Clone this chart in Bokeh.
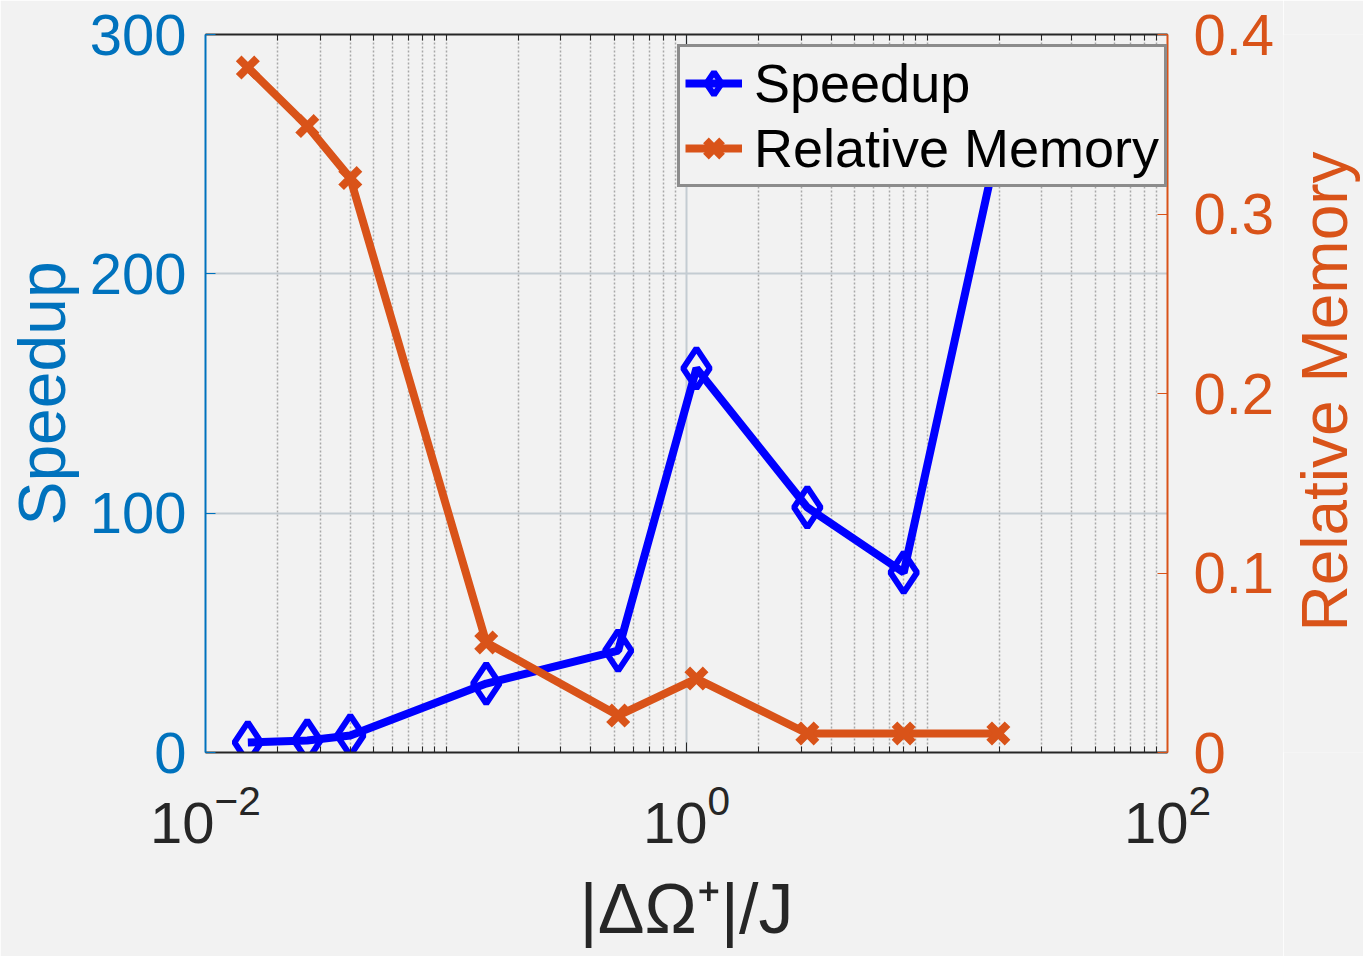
import math
from bokeh.plotting import figure
from bokeh.layouts import row
from bokeh.models import (LinearAxis, LogAxis, Range1d, FixedTicker, Legend,
                          LegendItem, LogTickFormatter)
from bokeh.core.properties import value
from bokeh.embed import file_html
from bokeh.resources import INLINE

# ---- data ----
x_values = [0.015, 0.0265, 0.04, 0.147, 0.52, 1.1, 3.18, 8.0, 19.8]
speedup = [4.2, 5.0, 7.1, 28.8, 42.6, 160.5, 102.4, 75.2, 255.0]
rel_memory = [0.3816, 0.349, 0.320, 0.0613, 0.0206, 0.0412, 0.0106, 0.0106, 0.0106]
left_ticks = [0, 100, 200, 300]
right_ticks = [0, 0.1, 0.2, 0.3, 0.4]
x_major_ticks = [0.01, 1, 100]
x_minor_ticks = [m * 10.0 ** e for e in (-2, -1, 0, 1) for m in range(1, 10)
                 if m * 10.0 ** e not in (0.01, 1, 100)]
right_title = "Relative Memory"

BG = "#f2f2f2"
BLUE_AX = "#0072BD"
ORANGE = "#D95319"
DARK = "#262626"
FONT = "Liberation Sans"

W, H = 1283, 956
ML, MR, MT, MB = 205, 116, 34, 204
W2 = 1363 - W

p = figure(width=W, height=H, x_axis_type="log", x_range=(0.01, 100),
           y_range=(0, 300), output_backend="svg", toolbar_location=None,
           min_border_left=ML, min_border_right=MR, min_border_top=MT,
           min_border_bottom=MB)
p.background_fill_color = BG
p.border_fill_color = BG
p.outline_line_color = None
p.extra_y_ranges = {"mem": Range1d(0, 0.4)}

xticker = FixedTicker(ticks=x_major_ticks, minor_ticks=x_minor_ticks)

# grids
p.xgrid.ticker = xticker
p.xgrid.grid_line_color = "#c4ccd2"
p.xgrid.grid_line_width = 2
p.xgrid.minor_grid_line_color = "#a8a8a8"
p.xgrid.minor_grid_line_dash = "2 2"
p.xgrid.minor_grid_line_width = 1.5
p.ygrid.grid_line_color = "#c4ccd2"
p.ygrid.grid_line_width = 2
p.ygrid.ticker = FixedTicker(ticks=left_ticks)

# bottom axis
xa = p.xaxis[0]
xa.ticker = xticker
xa.formatter = LogTickFormatter()
xa.axis_label = "|ΔΩ⁺|/J"
xa.axis_label_text_font = FONT
xa.axis_label_text_font_style = "normal"
xa.axis_label_text_font_size = "70px"
xa.axis_label_text_color = DARK
xa.axis_label_standoff = 24
xa.major_label_text_font = FONT
xa.major_label_text_font_size = "58px"
xa.major_label_text_color = DARK
xa.major_label_standoff = 32
xa.axis_line_color = DARK
xa.axis_line_width = 2
xa.major_tick_in = 10
xa.major_tick_out = 0
xa.minor_tick_in = 6
xa.minor_tick_out = 0
xa.major_tick_line_color = DARK
xa.minor_tick_line_color = DARK

# top axis (box)
ta = LogAxis(ticker=xticker)
ta.major_label_text_font_size = "2px"
ta.major_label_text_alpha = 0
ta.major_label_standoff = 0
ta.axis_line_color = DARK
ta.axis_line_width = 2
ta.major_tick_in = 10
ta.major_tick_out = 0
ta.minor_tick_in = 6
ta.minor_tick_out = 0
ta.major_tick_line_color = DARK
ta.minor_tick_line_color = DARK
p.add_layout(ta, "above")

# left axis
ya = p.yaxis[0]
ya.ticker = FixedTicker(ticks=left_ticks)
ya.axis_label = "Speedup"
ya.axis_label_text_font = FONT
ya.axis_label_text_font_style = "normal"
ya.axis_label_text_font_size = "66px"
ya.axis_label_text_color = BLUE_AX
ya.axis_label_standoff = 8
ya.major_label_text_font = FONT
ya.major_label_text_font_size = "58px"
ya.major_label_text_color = BLUE_AX
ya.major_label_standoff = 19
ya.axis_line_color = BLUE_AX
ya.axis_line_width = 2
ya.major_tick_in = 10
ya.major_tick_out = 0
ya.major_tick_line_color = BLUE_AX
ya.minor_tick_line_color = None

# right axis
ra = LinearAxis(y_range_name="mem", ticker=FixedTicker(ticks=right_ticks))
ra.major_label_text_font = FONT
ra.major_label_text_font_size = "58px"
ra.major_label_text_color = ORANGE
ra.major_label_standoff = 26
ra.major_label_overrides = {0: "0"}
ra.axis_line_color = ORANGE
ra.axis_line_width = 2
ra.major_tick_in = 10
ra.major_tick_out = 0
ra.major_tick_line_color = ORANGE
ra.minor_tick_line_color = None
p.add_layout(ra, "right")

# series
l1 = p.line(x_values, speedup, line_color="blue", line_width=8)
s1 = p.scatter(x_values, speedup, marker="diamond", size=40,
               fill_color=None, line_color="blue", line_width=6)
l2 = p.line(x_values, rel_memory, line_color=ORANGE, line_width=8, y_range_name="mem")
s2 = p.scatter(x_values, rel_memory, marker="x", size=26, line_color=ORANGE,
               line_width=8, y_range_name="mem")

legend = Legend(items=[LegendItem(label="Speedup", renderers=[l1, s1]),
                       LegendItem(label="Relative Memory", renderers=[l2, s2])],
                location=(472, 565))
legend.label_text_font = FONT
legend.label_text_font_size = "54px"
legend.label_text_color = "black"
legend.glyph_width = 57
legend.glyph_height = 62
legend.label_height = 62
legend.label_standoff = 12
legend.spacing = 3
legend.padding = 5
legend.margin = 0
legend.border_line_color = DARK
legend.border_line_width = 3
legend.background_fill_color = BG
legend.background_fill_alpha = 1.0
p.add_layout(legend, "center")

# narrow strip holding the right-hand axis title, reading bottom to top
# (its frame is aligned with the main frame: 34 px .. 752 px from the top)
p2 = figure(width=W2, height=H, x_range=(0, 1), y_range=(0, 1),
            output_backend="svg", toolbar_location=None,
            x_axis_location=None, y_axis_location=None,
            min_border=0, min_border_left=0, min_border_right=0,
            min_border_top=0, min_border_bottom=0)
p2.background_fill_color = BG
p2.border_fill_color = BG
p2.outline_line_color = None
p2.xgrid.visible = False
p2.ygrid.visible = False
p2.text(x=[(1324 - W) / W2], y=[(752 - 391) / 718], text=[right_title],
        angle=math.pi / 2, text_align="center", text_baseline="middle",
        text_font=value(FONT), text_font_size="64px", text_color=ORANGE)

layout = row(p, p2, spacing=0)
open("out.html", "w").write(file_html(layout, INLINE))
